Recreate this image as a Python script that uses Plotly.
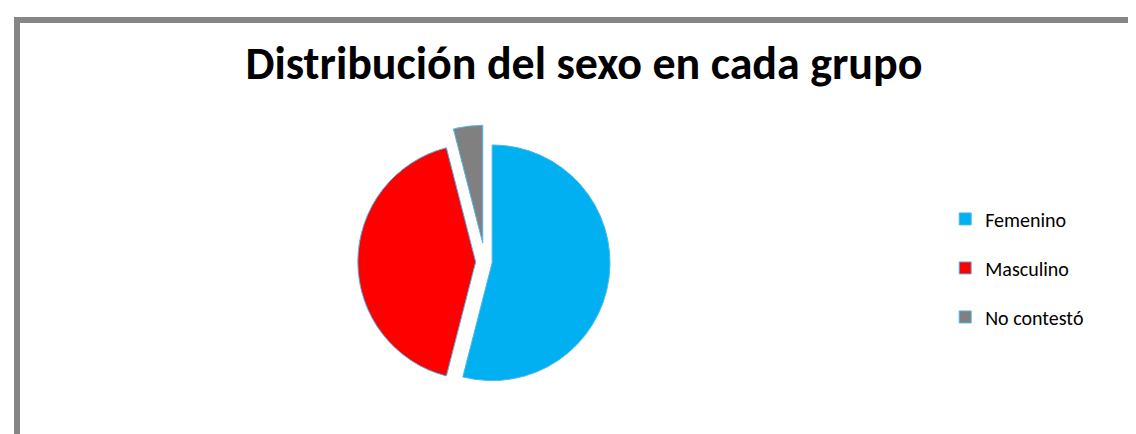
import plotly.graph_objects as go

labels = ["Femenino", "Masculino", "No contestó"]
values = [54, 42, 4]
colors = ["#00B0F0", "#FF0000", "#808080"]
pulls = [0.06, 0.08, 0.16]
title_text = "Distribución del sexo en cada grupo"

legend_labels = ["<span style='font-size:20px;baseline-shift:6px'>" + l + "</span>" for l in labels]

fig = go.Figure()
fig.add_trace(go.Pie(
    labels=legend_labels,
    values=values,
    sort=False,
    direction="clockwise",
    rotation=0,
    pull=pulls,
    marker=dict(colors=colors, line=dict(color="#4FB8E8", width=1)),
    textinfo="none",
    hoverinfo="label+percent",
    domain=dict(x=[0.27, 0.57], y=[0.10, 0.73]),
))

fig.update_layout(
    width=1136,
    height=434,
    margin=dict(l=0, r=0, t=0, b=0),
    paper_bgcolor="white",
    plot_bgcolor="white",
    title=dict(
        text="<b>" + title_text + "</b>",
        font=dict(family="Carlito, Open Sans", size=46, color="black"),
        x=0.507, xanchor="center",
        y=1 - 55 / 434, yanchor="middle", yref="container",
    ),
    legend=dict(
        x=0.825, y=0.40, xanchor="left", yanchor="middle",
        font=dict(family="Carlito, Open Sans", size=35.4, color="black"),
        traceorder="normal",
    ),
    shapes=[dict(
        type="rect", xref="paper", yref="paper",
        x0=9 / 1136, x1=1.05, y0=-0.05, y1=1 - 12 / 434,
        line=dict(color="#868686", width=6), fillcolor="rgba(0,0,0,0)",
    )],
)

fig.write_html("out.html")
